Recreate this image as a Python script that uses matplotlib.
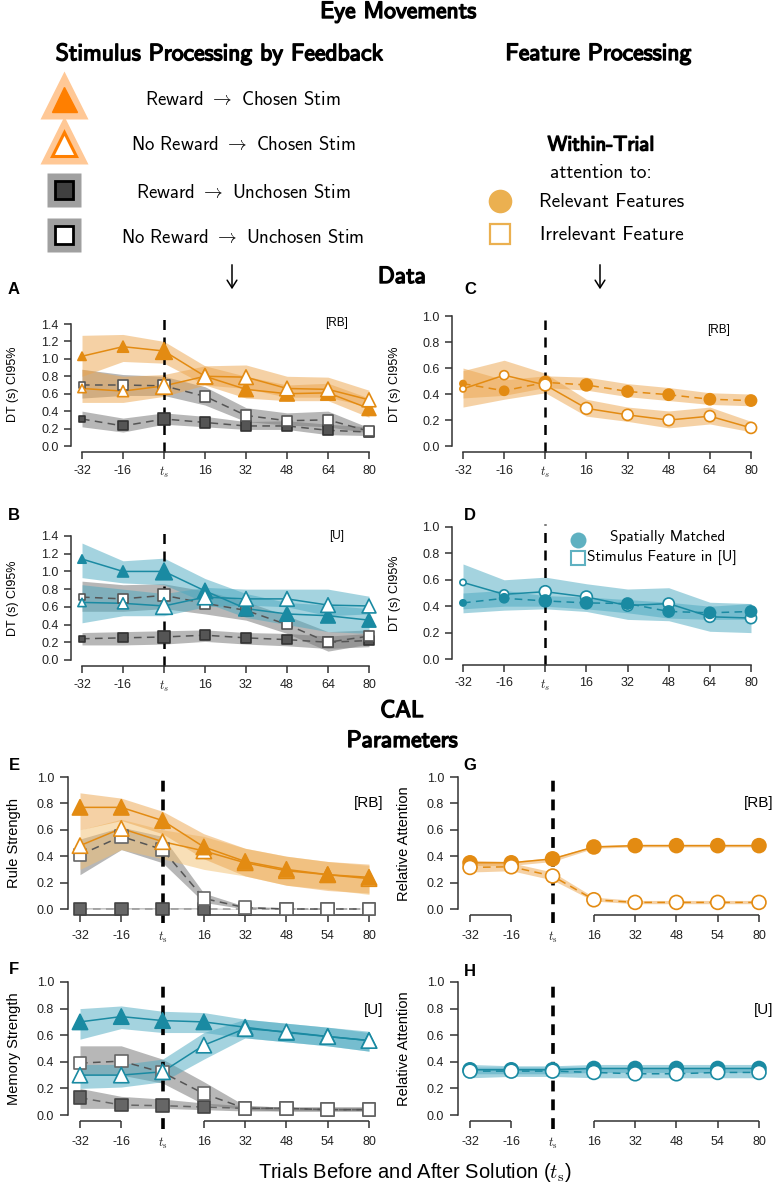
import numpy as np
import matplotlib.pyplot as plt
import matplotlib.patheffects as pe

plt.rcParams['font.family'] = ['Liberation Sans', 'DejaVu Sans']
plt.rcParams['mathtext.fontset'] = 'cm'

W, H = 775, 1189

# ---------------- data ----------------
x_data_labels = ['-32', '-16', '$t_s$', '16', '32', '48', '64', '80']
x_cal_labels = ['-32', '-16', r'$t_\mathrm{s}$', '16', '32', '48', '54', '80']

# A: eye movements, [RB]
a_rc = [1.03, 1.14, 1.09, 0.80, 0.65, 0.60, 0.61, 0.43]
a_rc_lo = [0.80, 0.97, 0.95, 0.70, 0.55, 0.52, 0.52, 0.33]
a_rc_hi = [1.27, 1.28, 1.20, 0.92, 0.80, 0.70, 0.72, 0.55]
a_nc = [0.66, 0.63, 0.69, 0.80, 0.79, 0.66, 0.65, 0.53]
a_nc_lo = [0.50, 0.50, 0.57, 0.70, 0.66, 0.56, 0.56, 0.45]
a_nc_hi = [0.88, 0.80, 0.82, 0.92, 0.93, 0.80, 0.79, 0.64]
a_nu = [0.70, 0.70, 0.69, 0.57, 0.35, 0.29, 0.30, 0.17]
a_nu_lo = [0.55, 0.58, 0.58, 0.47, 0.28, 0.24, 0.22, 0.15]
a_nu_hi = [0.88, 0.82, 0.80, 0.68, 0.44, 0.38, 0.40, 0.21]
a_ru = [0.31, 0.23, 0.31, 0.27, 0.23, 0.23, 0.18, 0.16]
a_ru_lo = [0.22, 0.16, 0.25, 0.22, 0.19, 0.19, 0.13, 0.12]
a_ru_hi = [0.40, 0.32, 0.38, 0.34, 0.28, 0.29, 0.25, 0.22]

# B: eye movements, [U]
b_rc = [1.14, 1.00, 1.00, 0.78, 0.58, 0.52, 0.50, 0.45]
b_rc_lo = [0.93, 0.87, 0.85, 0.65, 0.48, 0.40, 0.32, 0.30]
b_rc_hi = [1.32, 1.12, 1.15, 0.92, 0.75, 0.65, 0.62, 0.58]
b_nc = [0.65, 0.64, 0.61, 0.71, 0.69, 0.69, 0.62, 0.61]
b_nc_lo = [0.42, 0.50, 0.50, 0.60, 0.62, 0.60, 0.50, 0.52]
b_nc_hi = [0.85, 0.80, 0.75, 0.82, 0.80, 0.80, 0.80, 0.72]
b_nu = [0.71, 0.69, 0.73, 0.64, 0.56, 0.40, 0.20, 0.27]
b_nu_lo = [0.55, 0.55, 0.58, 0.52, 0.45, 0.30, 0.10, 0.18]
b_nu_hi = [0.89, 0.85, 0.86, 0.78, 0.66, 0.50, 0.32, 0.34]
b_ru = [0.24, 0.25, 0.26, 0.28, 0.25, 0.23, 0.20, 0.22]
b_ru_lo = [0.17, 0.17, 0.18, 0.21, 0.18, 0.16, 0.13, 0.15]
b_ru_hi = [0.31, 0.32, 0.33, 0.34, 0.31, 0.30, 0.27, 0.30]

# C: feature processing, [RB]
c_rel = [0.48, 0.425, 0.49, 0.47, 0.42, 0.395, 0.36, 0.35]
c_rel_lo = [0.37, 0.39, 0.45, 0.43, 0.38, 0.35, 0.32, 0.31]
c_rel_hi = [0.60, 0.51, 0.54, 0.53, 0.48, 0.45, 0.41, 0.40]
c_irr = [0.44, 0.545, 0.47, 0.29, 0.24, 0.20, 0.23, 0.14]
c_irr_lo = [0.30, 0.36, 0.41, 0.23, 0.19, 0.14, 0.17, 0.11]
c_irr_hi = [0.58, 0.66, 0.56, 0.36, 0.30, 0.27, 0.30, 0.19]

# D: feature processing, [U]
d_sp = [0.425, 0.46, 0.44, 0.425, 0.42, 0.36, 0.35, 0.36]
d_sp_lo = [0.38, 0.40, 0.40, 0.38, 0.35, 0.31, 0.30, 0.30]
d_sp_hi = [0.50, 0.52, 0.48, 0.47, 0.45, 0.43, 0.40, 0.42]
d_st = [0.58, 0.49, 0.51, 0.47, 0.405, 0.42, 0.32, 0.31]
d_st_lo = [0.35, 0.37, 0.38, 0.36, 0.30, 0.29, 0.21, 0.20]
d_st_hi = [0.72, 0.60, 0.62, 0.57, 0.53, 0.54, 0.43, 0.42]

# E: CAL rule strength, [RB]
e_rc = [0.77, 0.77, 0.67, 0.47, 0.36, 0.30, 0.26, 0.24]
e_rc_lo = [0.60, 0.67, 0.57, 0.38, 0.25, 0.18, 0.14, 0.12]
e_rc_hi = [0.88, 0.84, 0.74, 0.57, 0.46, 0.40, 0.36, 0.34]
e_nc = [0.48, 0.61, 0.51, 0.44, 0.35, 0.29, 0.26, 0.23]
e_nc_lo = [0.30, 0.45, 0.38, 0.30, 0.25, 0.18, 0.15, 0.11]
e_nc_hi = [0.60, 0.68, 0.60, 0.55, 0.46, 0.40, 0.36, 0.33]
e_nu = [0.41, 0.55, 0.45, 0.08, 0.01, 0.0, 0.0, 0.0]
e_nu_lo = [0.26, 0.45, 0.35, 0.05, 0.0, 0.0, 0.0, 0.0]
e_nu_hi = [0.53, 0.62, 0.55, 0.12, 0.02, 0.01, 0.0, 0.0]
e_ru = [0.0, 0.0, 0.0, 0.0, 0.0, 0.0, 0.0, 0.0]
e_ru_lo = [0.0, 0.0, 0.0, 0.0, 0.0, 0.0, 0.0, 0.0]
e_ru_hi = [0.01, 0.01, 0.01, 0.01, 0.0, 0.0, 0.0, 0.0]

# F: CAL memory strength, [U]
f_rc = [0.70, 0.74, 0.71, 0.70, 0.66, 0.62, 0.59, 0.56]
f_rc_lo = [0.57, 0.65, 0.62, 0.62, 0.58, 0.55, 0.52, 0.48]
f_rc_hi = [0.80, 0.82, 0.78, 0.77, 0.72, 0.69, 0.66, 0.62]
f_nc = [0.30, 0.30, 0.325, 0.525, 0.65, 0.625, 0.59, 0.56]
f_nc_lo = [0.20, 0.21, 0.25, 0.42, 0.58, 0.55, 0.52, 0.48]
f_nc_hi = [0.38, 0.38, 0.42, 0.62, 0.72, 0.69, 0.66, 0.63]
f_nu = [0.39, 0.405, 0.32, 0.16, 0.05, 0.05, 0.04, 0.04]
f_nu_lo = [0.30, 0.30, 0.24, 0.08, 0.04, 0.03, 0.03, 0.03]
f_nu_hi = [0.52, 0.52, 0.42, 0.25, 0.07, 0.06, 0.06, 0.06]
f_ru = [0.13, 0.075, 0.07, 0.06, 0.05, 0.05, 0.04, 0.04]
f_ru_lo = [0.05, 0.05, 0.05, 0.04, 0.03, 0.03, 0.03, 0.03]
f_ru_hi = [0.20, 0.14, 0.12, 0.09, 0.07, 0.06, 0.06, 0.06]

# G: CAL relative attention, [RB]
g_rel = [0.35, 0.35, 0.38, 0.47, 0.48, 0.48, 0.48, 0.48]
g_rel_lo = [0.33, 0.33, 0.36, 0.46, 0.47, 0.47, 0.47, 0.47]
g_rel_hi = [0.37, 0.36, 0.39, 0.48, 0.49, 0.49, 0.49, 0.49]
g_irr = [0.315, 0.32, 0.25, 0.07, 0.05, 0.05, 0.05, 0.05]
g_irr_lo = [0.28, 0.29, 0.22, 0.06, 0.04, 0.04, 0.04, 0.04]
g_irr_hi = [0.35, 0.35, 0.28, 0.09, 0.065, 0.065, 0.065, 0.065]

# H: CAL relative attention, [U]
h_rel = [0.34, 0.34, 0.34, 0.35, 0.35, 0.35, 0.35, 0.35]
h_rel_lo = [0.31, 0.31, 0.31, 0.32, 0.32, 0.32, 0.32, 0.32]
h_rel_hi = [0.38, 0.37, 0.37, 0.38, 0.38, 0.38, 0.38, 0.38]
h_irr = [0.33, 0.33, 0.33, 0.32, 0.31, 0.31, 0.32, 0.32]
h_irr_lo = [0.28, 0.29, 0.29, 0.28, 0.28, 0.28, 0.28, 0.28]
h_irr_hi = [0.36, 0.36, 0.36, 0.36, 0.35, 0.35, 0.35, 0.35]

# ---------------- style ----------------
ORANGE = '#e38b12'
ORANGE_BAND = '#eca54c'
TEAL = '#1a8aa2'
TEAL_BAND = '#4aa9c0'
GRAY = '#555555'
GRAY_BAND = '#7c7c7c'
SPINE = '#333333'

ms_tri = [6, 8, 12, 11, 10.5, 10.5, 10.5, 10]
ms_sq = [4.5, 6.5, 8.5, 7.5, 7.5, 7, 7, 7]
ms_circ = [4.5, 6.5, 8.5, 8.5, 8, 8, 8, 8]
CAL_TRI, CAL_SQ, CAL_CIRC = 11, 9, 10

fig = plt.figure(figsize=(W / 100, H / 100), dpi=100)

ov = fig.add_axes([0, 0, 1, 1])
ov.set_xlim(0, W)
ov.set_ylim(H, 0)
ov.axis('off')

bold = [pe.withStroke(linewidth=1.0, foreground='black')]
CMSS = 'cmss10'


def make_ax(spine_x, x0, x7, y0, ytop_px, ytop, base_y, top_px, cal=False):
    ux = (x7 - x0) / 7.0
    uy = (y0 - ytop_px) / ytop
    right = x7 + 14
    ax = fig.add_axes([spine_x / W, 1 - base_y / H,
                       (right - spine_x) / W, (base_y - top_px) / H])
    yb = -(base_y - y0) / uy
    ax.set_xlim((spine_x - x0) / ux, (right - x0) / ux)
    ax.set_ylim(yb, (y0 - top_px) / uy)
    ax.patch.set_visible(False)
    for s in ['top', 'right']:
        ax.spines[s].set_visible(False)
    for s in ['left', 'bottom']:
        ax.spines[s].set_color(SPINE)
        ax.spines[s].set_linewidth(1.1)
    ax.spines['left'].set_bounds(0, ytop)
    ax.set_yticks(np.round(np.arange(0, ytop + 0.01, 0.2), 1))
    ax.set_yticklabels(['%.1f' % v for v in np.arange(0, ytop + 0.01, 0.2)])
    ax.set_xticks(range(8))
    ax.set_xticklabels(x_cal_labels if cal else x_data_labels)
    ax.tick_params(axis='both', colors=SPINE, width=1.1, labelsize=9,
                   labelcolor='#222222')
    ax.tick_params(axis='y', length=5 if not cal else 6, pad=4)
    ax.tick_params(axis='x', length=5, pad=6 if cal else 4)
    if cal:
        ax.spines['bottom'].set_visible(False)
        for seg in ([0, 1], [3, 7]):
            ax.plot(seg, [yb, yb], color=SPINE, lw=1.1, clip_on=False,
                    solid_capstyle='butt')
        ax.xaxis.get_major_ticks()[2].tick1line.set_visible(False)
        ax.plot([2, 2], [yb - 8 / uy, (y0 - top_px - 6) / uy], color='black',
                lw=2.6, ls=(0, (3, 2.2)), clip_on=False, zorder=2)
    else:
        ax.spines['bottom'].set_bounds(0, 7)
        ax.plot([2, 2], [yb, (y0 - top_px - 2) / uy], color='black',
                lw=1.8, ls=(0, (4, 3)), clip_on=False, zorder=2)
    return ax


def ylabel(ax, text, x_px, spine_x, right_px, fs):
    ax.set_ylabel(text, fontsize=fs)
    ax.yaxis.set_label_coords((x_px - spine_x) / (right_px - spine_x), 0.5)


def series(ax, y, lo, hi, color, band, marker, ms, filled, ls,
           line_color=None, edge=None, alpha=0.5):
    x = np.arange(len(y))
    ax.fill_between(x, lo, hi, color=band, alpha=alpha, lw=0, zorder=1)
    ax.plot(x, y, color=line_color or color, ls=ls, lw=1.1, zorder=3)
    ms = np.broadcast_to(np.asarray(ms, dtype=float), (len(y),))
    ax.scatter(x, y, s=ms ** 2, marker=marker,
               facecolor=color if filled else 'white',
               edgecolor=edge or color, linewidths=1.2, zorder=4, clip_on=False)


def letter(x, y, s):
    ov.text(x, y, s, fontsize=12, fontweight='bold', ha='center', va='center')


DASH = (0, (5, 3.5))

# ---- A ----
ax = make_ax(71, 82, 369, 446, 324, 1.4, 452, 316)
series(ax, a_ru, a_ru_lo, a_ru_hi, GRAY, GRAY_BAND, 's', ms_sq, True, DASH,
       edge='#333333', alpha=0.55)
series(ax, a_nu, a_nu_lo, a_nu_hi, GRAY, GRAY_BAND, 's', ms_sq, False, DASH,
       alpha=0.55)
series(ax, a_rc, a_rc_lo, a_rc_hi, ORANGE, ORANGE_BAND, '^', ms_tri, True, '-')
series(ax, a_nc, a_nc_lo, a_nc_hi, ORANGE, ORANGE_BAND, '^', ms_tri, False, '-')
ax.text(6.2, 1.41, '[RB]', fontsize=8.5, ha='center', va='center')
ylabel(ax, 'DT (s) CI95%', 19, 71, 383, 9)
letter(14, 290, 'A')

# ---- B ----
ax = make_ax(71, 82, 369, 660, 536, 1.4, 666, 530)
series(ax, b_ru, b_ru_lo, b_ru_hi, GRAY, GRAY_BAND, 's', ms_sq, True, DASH,
       edge='#333333', alpha=0.55)
series(ax, b_nu, b_nu_lo, b_nu_hi, GRAY, GRAY_BAND, 's', ms_sq, False, DASH,
       alpha=0.55)
series(ax, b_rc, b_rc_lo, b_rc_hi, TEAL, TEAL_BAND, '^', ms_tri, True, '-')
series(ax, b_nc, b_nc_lo, b_nc_hi, TEAL, TEAL_BAND, '^', ms_tri, False, '-')
ax.text(6.2, 1.40, '[U]', fontsize=8.5, ha='center', va='center')
ylabel(ax, 'DT (s) CI95%', 19, 71, 383, 9)
letter(14, 516, 'B')

# ---- C ----
ax = make_ax(452, 463, 751, 446, 314, 1.0, 452, 316)
series(ax, c_rel, c_rel_lo, c_rel_hi, ORANGE, ORANGE_BAND, 'o', ms_circ, True, DASH)
series(ax, c_irr, c_irr_lo, c_irr_hi, ORANGE, ORANGE_BAND, 'o', ms_circ, False, '-')
ax.text(6.2, 0.89, '[RB]', fontsize=8.5, ha='center', va='center')
ylabel(ax, 'DT (s) CI95%', 401, 452, 765, 9)
letter(470, 290, 'C')

# ---- D ----
ax = make_ax(452, 463, 751, 659, 527, 1.0, 665, 522)
series(ax, d_st, d_st_lo, d_st_hi, TEAL, TEAL_BAND, 'o', ms_circ, False, '-')
series(ax, d_sp, d_sp_lo, d_sp_hi, TEAL, TEAL_BAND, 'o', ms_circ, True, DASH)
ylabel(ax, 'DT (s) CI95%', 401, 452, 765, 9)
letter(470, 516, 'D')
ov.plot(578, 540, 'o', ms=11.5, color='#5fb1c1', mec='none')
ov.plot(578, 558, 's', ms=9.5, mfc='white', mec='#5fb1c1', mew=1.5)
ov.text(668, 537, 'Spatially Matched', fontfamily=CMSS, fontsize=11,
        ha='center', va='center')
ov.text(662, 557, 'Stimulus Feature in [U]', fontfamily=CMSS, fontsize=11,
        ha='center', va='center')

# ---- E ----
ax = make_ax(68, 80, 369, 909, 777, 1.0, 915, 772, cal=True)
series(ax, e_ru, e_ru_lo, e_ru_hi, '#666666', GRAY_BAND, 's', CAL_SQ, True, DASH,
       line_color='#999999', edge='#444444', alpha=0.55)
series(ax, e_nu, e_nu_lo, e_nu_hi, GRAY, GRAY_BAND, 's', CAL_SQ, False, DASH,
       edge='#666666', alpha=0.55)
series(ax, e_nc, e_nc_lo, e_nc_hi, ORANGE, '#f3c070', '^', CAL_TRI, False, '-')
series(ax, e_rc, e_rc_lo, e_rc_hi, ORANGE, ORANGE_BAND, '^', CAL_TRI, True, '-')
ax.text(7.35, 0.80, '[RB]', fontsize=11, ha='right', va='center')
ylabel(ax, 'Rule Strength', 21, 68, 383, 10.5)
letter(14, 765, 'E')

# ---- F ----
ax = make_ax(68, 80, 369, 1115, 982, 1.0, 1121, 977, cal=True)
series(ax, f_ru, f_ru_lo, f_ru_hi, '#666666', GRAY_BAND, 's', CAL_SQ, True, DASH,
       edge='#444444', alpha=0.55)
series(ax, f_nu, f_nu_lo, f_nu_hi, GRAY, GRAY_BAND, 's', CAL_SQ, False, DASH,
       edge='#666666', alpha=0.55)
series(ax, f_rc, f_rc_lo, f_rc_hi, TEAL, TEAL_BAND, '^', CAL_TRI, True, '-')
series(ax, f_nc, f_nc_lo, f_nc_hi, TEAL, TEAL_BAND, '^', CAL_TRI, False, '-')
ax.text(7.35, 0.79, '[U]', fontsize=11, ha='right', va='center')
ylabel(ax, 'Memory Strength', 21, 68, 383, 10.5)
letter(14, 969, 'F')

# ---- G ----
ax = make_ax(458, 470, 759, 909, 777, 1.0, 915, 772, cal=True)
series(ax, g_rel, g_rel_lo, g_rel_hi, ORANGE, ORANGE_BAND, 'o', CAL_CIRC, True, '-')
series(ax, g_irr, g_irr_lo, g_irr_hi, ORANGE, ORANGE_BAND, 'o', CAL_CIRC, False, DASH)
ax.text(7.35, 0.80, '[RB]', fontsize=11, ha='right', va='center')
ylabel(ax, 'Relative Attention', 411, 458, 773, 10.5)
letter(470, 765, 'G')

# ---- H ----
ax = make_ax(458, 470, 759, 1115, 982, 1.0, 1121, 977, cal=True)
series(ax, h_rel, h_rel_lo, h_rel_hi, TEAL, TEAL_BAND, 'o', CAL_CIRC, True, '-')
series(ax, h_irr, h_irr_lo, h_irr_hi, TEAL, TEAL_BAND, 'o', CAL_CIRC, False, DASH)
ax.text(7.35, 0.79, '[U]', fontsize=11, ha='right', va='center')
ylabel(ax, 'Relative Attention', 411, 458, 773, 10.5)
letter(470, 972, 'H')

# ---------------- header / legend ----------------
HEAD = 17
ov.text(398, 12, 'Eye Movements', fontfamily=CMSS, fontsize=HEAD,
        ha='center', va='center', path_effects=bold)
ov.text(219, 54, 'Stimulus Processing by Feedback', fontfamily=CMSS, fontsize=HEAD,
        ha='center', va='center', path_effects=bold)
ov.text(598, 54, 'Feature Processing', fontfamily=CMSS, fontsize=HEAD,
        ha='center', va='center', path_effects=bold)

leg_y = [97, 142, 190, 235]
leg_txt = [r'Reward $\rightarrow$ Chosen Stim',
           r'No Reward $\rightarrow$ Chosen Stim',
           r'Reward $\rightarrow$ Unchosen Stim',
           r'No Reward $\rightarrow$ Unchosen Stim']
ov.plot(64, leg_y[0] - 2, '^', ms=34, color='#ffc896', mec='none')
ov.plot(64, leg_y[0] + 2, '^', ms=18, color='#ff7f00', mec='#ff7f00')
ov.plot(64, leg_y[1] - 2, '^', ms=34, color='#ffc896', mec='none')
ov.plot(64, leg_y[1] + 2, '^', ms=17, mfc='white', mec='#ff7f00', mew=2.2)
ov.plot(64, leg_y[2], 's', ms=24.5, color='#a0a0a0', mec='none')
ov.plot(64, leg_y[2], 's', ms=13, mfc='#404040', mec='black', mew=2)
ov.plot(64, leg_y[3], 's', ms=24.5, color='#a0a0a0', mec='none')
ov.plot(64, leg_y[3], 's', ms=13, mfc='white', mec='black', mew=2)
for yy, tt in zip(leg_y, leg_txt):
    ov.text(243, yy + 3, tt, fontfamily=CMSS, fontsize=13.5, ha='center',
            va='center')

ov.text(601, 145, 'Within-Trial', fontfamily=CMSS, fontsize=15, ha='center',
        va='center', path_effects=bold)
ov.text(601, 173, 'attention to:', fontfamily=CMSS, fontsize=14, ha='center',
        va='center')
ov.plot(500, 201, 'o', ms=17, color='#ebb050', mec='none')
ov.plot(500, 234, 's', ms=15, mfc='white', mec='#ebb050', mew=1.6)
ov.text(612, 202, 'Relevant Features', fontfamily=CMSS, fontsize=14,
        ha='center', va='center')
ov.text(612, 235, 'Irrelevant Feature', fontfamily=CMSS, fontsize=14,
        ha='center', va='center')

for ax_x in (232, 600):
    ov.annotate('', xy=(ax_x, 292), xytext=(ax_x, 262),
                arrowprops=dict(arrowstyle='->,head_width=0.35,head_length=0.55',
                                lw=1.1, color='black'))

ov.text(402, 277, 'Data', fontfamily=CMSS, fontsize=HEAD, ha='center',
        va='center', path_effects=bold)
ov.text(402, 711, 'CAL', fontfamily=CMSS, fontsize=HEAD, ha='center',
        va='center', path_effects=bold)
ov.text(402, 741, 'Parameters', fontfamily=CMSS, fontsize=HEAD, ha='center',
        va='center', path_effects=bold)

ov.text(415, 1172, r'Trials Before and After Solution ($t_\mathrm{s}$)',
        fontsize=14.5, ha='center', va='center')

fig.savefig('out.png', dpi=100)
